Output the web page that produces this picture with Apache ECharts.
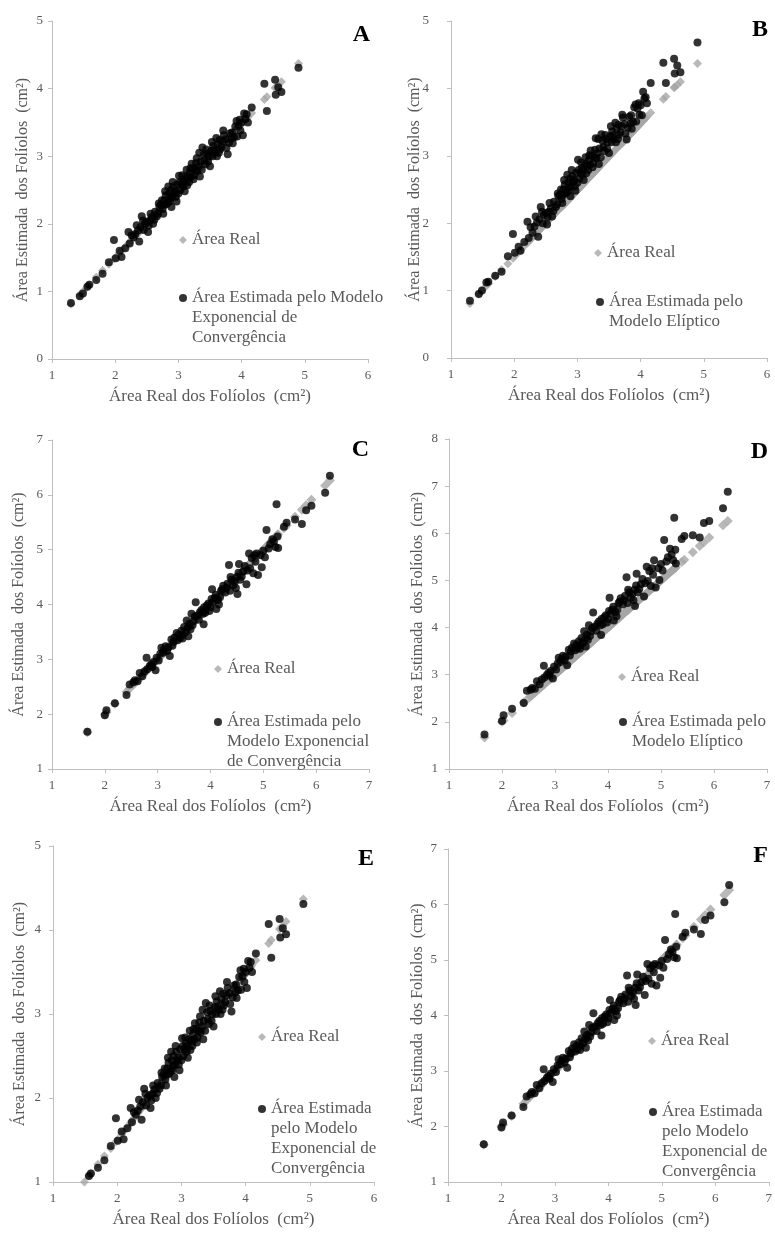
<!DOCTYPE html>
<html>
<head>
<meta charset="utf-8">
<script src="https://cdn.jsdelivr.net/npm/echarts@6/dist/echarts.min.js"></script>
<style>
  body { margin: 0; background: #fff; }
  .panel { position: absolute; }
</style>
</head>
<body>
<div id="pA" class="panel" style="left:0;top:0;width:384px;height:410px"></div>
<div id="pB" class="panel" style="left:385px;top:0;width:390px;height:410px"></div>
<div id="pC" class="panel" style="left:0;top:410px;width:384px;height:410px"></div>
<div id="pD" class="panel" style="left:385px;top:410px;width:390px;height:410px"></div>
<div id="pE" class="panel" style="left:0;top:820px;width:384px;height:413px"></div>
<div id="pF" class="panel" style="left:385px;top:820px;width:390px;height:413px"></div>
<script>
// conjunto 1 (paineis A, B, E)
var leafX1 = [
  1.30,1.44,1.49,1.56,1.59,1.70,1.80,1.90,1.98,2.01,
  2.07,2.10,2.16,2.21,2.23,2.29,2.32,2.34,2.38,2.40,
  2.42,2.45,2.47,2.50,2.52,2.55,2.56,2.58,2.60,2.63,
  2.66,2.68,2.70,2.72,2.74,2.75,2.76,2.78,2.79,2.80,
  2.81,2.83,2.84,2.85,2.87,2.88,2.89,2.90,2.92,2.93,
  2.95,2.97,2.98,3.00,3.01,3.03,3.05,3.07,3.08,3.10,
  3.12,3.13,3.15,3.17,3.18,3.20,3.21,3.23,3.25,3.27,
  3.29,3.30,3.32,3.34,3.35,3.38,3.40,3.41,3.43,3.45,
  3.48,3.50,3.52,3.53,3.55,3.56,3.58,3.61,3.62,3.65,
  3.66,3.68,3.70,3.72,3.75,3.78,3.80,3.82,3.85,3.86,
  3.88,3.90,3.93,3.95,3.97,4.00,4.02,4.04,4.06,4.10,
  4.16,4.36,4.40,4.53,4.54,4.58,4.63,4.90,
  2.44,2.53,2.62,2.69,2.77,2.86,2.91,2.96,3.02,3.06,
  3.09,3.14,3.19,3.24,3.28,3.33,3.37,3.44,3.47,3.54,
  3.60,3.64,3.71,3.76,3.84,3.92,3.98,4.08,2.26,2.36
];
var realArea1 = [
  0.81,0.95,1.00,1.07,1.10,1.21,1.31,1.40,1.48,1.51,
  1.57,1.60,1.66,1.71,1.73,1.79,1.82,1.84,1.88,1.90,
  1.92,1.95,1.97,2.00,2.02,2.05,2.06,2.08,2.10,2.13,
  2.16,2.18,2.20,2.22,2.24,2.24,2.25,2.27,2.28,2.29,
  2.30,2.32,2.33,2.34,2.36,2.37,2.38,2.39,2.41,2.42,
  2.44,2.46,2.47,2.49,2.50,2.52,2.54,2.56,2.57,2.59,
  2.61,2.62,2.64,2.66,2.67,2.69,2.70,2.72,2.74,2.76,
  2.78,2.79,2.81,2.83,2.84,2.87,2.89,2.90,2.92,2.94,
  2.97,2.99,3.01,3.02,3.04,3.05,3.07,3.10,3.11,3.14,
  3.15,3.16,3.18,3.20,3.23,3.26,3.28,3.30,3.33,3.34,
  3.36,3.38,3.41,3.43,3.45,3.48,3.50,3.52,3.54,3.58,
  3.64,3.84,3.88,4.01,4.02,4.05,4.10,4.37,
  1.94,2.03,2.12,2.19,2.27,2.35,2.40,2.45,2.51,2.55,
  2.58,2.63,2.68,2.73,2.77,2.82,2.86,2.93,2.96,3.03,
  3.09,3.13,3.20,3.25,3.32,3.40,3.46,3.56,1.76,1.86
];
var estExp1 = [
  0.83,0.93,0.97,1.07,1.10,1.17,1.26,1.43,1.76,1.49,
  1.60,1.51,1.64,1.88,1.71,1.80,1.85,1.98,1.74,1.95,
  2.11,1.91,2.00,2.03,1.88,2.05,2.15,2.10,2.00,2.18,
  2.11,2.15,2.25,2.28,2.35,2.22,2.15,2.35,2.48,2.42,
  2.29,2.32,2.55,2.45,2.38,2.50,2.25,2.40,2.55,2.45,
  2.48,2.33,2.58,2.45,2.71,2.50,2.58,2.65,2.55,2.48,
  2.70,2.80,2.68,2.62,2.75,2.70,2.89,2.82,2.72,2.80,
  2.97,2.78,2.85,2.70,2.92,3.13,3.02,2.94,2.88,3.04,
  3.00,2.85,3.08,3.21,3.15,3.09,3.05,3.00,3.18,3.24,
  3.10,3.14,3.22,3.31,3.25,3.03,3.20,3.34,3.35,3.19,
  3.28,3.44,3.29,3.45,3.54,3.50,3.31,3.63,3.55,3.50,
  3.72,4.07,3.67,4.13,3.91,4.02,3.95,4.31,
  2.05,1.97,2.06,2.30,2.28,2.33,2.62,2.40,2.62,2.72,
  2.62,2.57,2.82,2.66,2.90,3.05,2.80,3.10,2.92,3.00,
  3.27,3.05,3.38,3.12,3.26,3.52,3.38,3.62,1.83,1.90
];
var estEll1 = [
  0.85,0.95,1.00,1.12,1.13,1.22,1.28,1.51,1.84,1.56,
  1.65,1.59,1.72,2.02,1.78,1.86,1.95,2.10,1.80,2.06,
  2.24,2.00,2.12,2.15,1.98,2.17,2.30,2.22,2.10,2.32,
  2.24,2.28,2.40,2.42,2.50,2.36,2.30,2.50,2.64,2.57,
  2.44,2.46,2.72,2.60,2.53,2.66,2.40,2.55,2.70,2.61,
  2.64,2.48,2.75,2.60,2.94,2.66,2.74,2.82,2.72,2.64,
  2.88,2.98,2.85,2.79,2.93,2.87,3.08,3.00,2.89,2.98,
  3.26,2.96,3.04,2.88,3.11,3.32,3.22,3.13,3.07,3.25,
  3.20,3.04,3.29,3.44,3.36,3.30,3.25,3.20,3.40,3.46,
  3.31,3.35,3.44,3.57,3.47,3.24,3.42,3.58,3.60,3.40,
  3.50,3.72,3.51,3.70,3.78,3.75,3.60,3.95,3.85,3.78,
  4.08,4.38,4.08,4.44,4.22,4.34,4.24,4.68,
  2.17,2.09,2.18,2.44,2.42,2.48,2.79,2.55,2.79,2.90,
  2.79,2.74,3.01,2.83,3.09,3.25,2.98,3.31,3.11,3.20,
  3.49,3.25,3.61,3.33,3.48,3.76,3.61,3.87,1.94,2.01
];

// conjunto 2 (paineis C, D, F) - area real no eixo x e no eixo y
var leafX2 = [
  1.67,2.00,2.03,2.19,2.41,2.47,2.54,2.57,2.62,2.71,
  2.75,2.79,2.80,2.85,2.88,2.92,2.96,2.98,3.02,3.07,
  3.10,3.12,3.15,3.20,3.23,3.26,3.28,3.32,3.36,3.38,
  3.42,3.45,3.48,3.50,3.53,3.55,3.58,3.60,3.62,3.64,
  3.68,3.72,3.75,3.78,3.83,3.86,3.87,3.90,3.93,3.96,
  4.00,4.03,4.05,4.08,4.11,4.14,4.18,4.20,4.24,4.28,
  4.32,4.35,4.37,4.40,4.43,4.46,4.50,4.51,4.54,4.56,
  4.59,4.62,4.68,4.70,4.73,4.78,4.81,4.85,4.87,4.90,
  4.95,4.97,5.03,5.06,5.10,5.17,5.20,5.23,5.25,5.27,
  5.28,5.39,5.44,5.60,5.73,5.81,5.91,6.17,6.26,
  2.66,2.90,3.05,3.18,3.30,3.40,3.47,3.57,3.66,3.70,
  3.80,3.88,3.98,4.02,4.10,4.16,4.22,4.30,4.38,4.48,
  4.53,4.65,4.75,4.83,5.00,5.13
];
var estExp2 = [
  1.68,1.98,2.07,2.20,2.35,2.54,2.58,2.62,2.60,2.69,
  2.78,3.03,2.82,2.88,2.91,2.95,2.80,3.03,2.98,3.21,
  3.12,3.18,3.24,3.22,3.06,3.36,3.25,3.40,3.48,3.35,
  3.39,3.52,3.45,3.59,3.50,3.71,3.42,3.65,3.55,3.83,
  3.70,4.04,3.80,3.72,3.90,3.83,3.64,3.85,3.98,4.02,
  3.95,4.28,4.05,4.12,3.92,4.08,4.13,4.25,4.34,4.22,
  4.38,4.72,4.25,4.45,4.35,4.42,4.50,4.19,4.74,4.45,
  4.51,4.60,4.37,4.62,4.93,4.85,4.57,4.78,4.93,4.54,
  4.90,4.68,4.86,5.36,5.02,5.19,5.15,5.05,5.83,5.24,
  5.03,5.42,5.49,5.55,5.47,5.72,5.80,6.04,6.35,
  2.75,2.86,3.10,3.15,3.32,3.45,3.38,3.58,3.62,3.78,
  3.86,3.95,3.88,4.10,4.18,4.00,4.28,4.30,4.50,4.30,
  4.58,4.70,4.66,4.90,4.98,5.10
];
var estEll2 = [
  1.73,2.02,2.14,2.28,2.40,2.66,2.68,2.72,2.70,2.80,
  2.90,3.19,2.94,3.00,3.04,3.08,2.92,3.17,3.11,3.36,
  3.27,3.33,3.40,3.38,3.20,3.53,3.41,3.57,3.66,3.52,
  3.56,3.71,3.63,3.78,3.68,3.92,3.60,3.85,3.74,4.05,
  3.91,4.32,4.02,3.93,4.13,4.05,3.84,4.07,4.22,4.26,
  4.18,4.63,4.30,4.38,4.15,4.33,4.39,4.52,4.62,4.49,
  4.67,5.07,4.52,4.75,4.63,4.71,4.80,4.46,5.14,4.75,
  4.82,4.92,4.66,4.94,5.29,5.20,4.88,5.12,5.43,4.85,
  5.26,5.01,5.21,5.86,5.40,5.67,5.55,5.43,6.33,5.65,
  5.36,5.88,5.94,5.96,5.91,6.22,6.26,6.53,6.88,
  2.86,2.98,3.24,3.30,3.49,3.63,3.55,3.77,3.82,3.99,
  4.08,4.18,4.11,4.35,4.44,4.24,4.55,4.58,4.80,4.58,
  4.89,5.03,4.99,5.26,5.35,5.49
];

var AXIS_GREY = '#bfbfbf';
var TEXT_GREY = '#595959';
var SERIF = '"Liberation Serif", "Times New Roman", serif';
var xTitle = 'Área Real dos Folíolos  (cm²)';
var yTitle = 'Área Estimada  dos Folíolos  (cm²)';

function pairs(xs, ys) {
  return xs.map(function (v, i) { return [v, ys[i]]; });
}

function axis(min, max, name, gap, margin, nameSize) {
  return {
    type: 'value', min: min, max: max, interval: 1,
    name: name, nameLocation: 'middle', nameGap: gap, nameMoveOverlap: false,
    nameTextStyle: { fontFamily: SERIF, fontSize: nameSize, color: TEXT_GREY },
    axisLine: { show: true, onZero: false, lineStyle: { color: AXIS_GREY } },
    axisTick: { show: true, length: 4, lineStyle: { color: AXIS_GREY } },
    axisLabel: { margin: margin, fontFamily: SERIF, fontSize: 13, color: TEXT_GREY },
    splitLine: { show: false }
  };
}

function drawPanel(p) {
  var chart = echarts.init(document.getElementById(p.id));
  var n = p.estLabel.split('\n').length;
  // linhas vazias antes do texto: o icone fica na altura da primeira linha
  var label = new Array(n).join('\n') + p.estLabel;
  chart.setOption({
    animation: false,
    grid: p.grid,
    title: {
      text: p.letter, right: p.letterPos[0], top: p.letterPos[1], padding: 0,
      textStyle: { fontFamily: SERIF, fontWeight: 'bold', fontSize: 24, color: '#000' }
    },
    xAxis: axis(p.xmin, p.xmax, xTitle, 29, 10, 17),
    yAxis: axis(p.ymin, p.ymax, yTitle, p.yGap, p.yMargin, 16),
    legend: [{
      data: ['Área Real'], selectedMode: false, padding: 0,
      left: p.leg1[0] - 4, top: p.leg1[1] - 10,
      icon: 'diamond', itemWidth: 8, itemHeight: 8,
      textStyle: { fontFamily: SERIF, fontSize: 17, color: TEXT_GREY, lineHeight: 20 }
    }, {
      data: [p.estName], selectedMode: false, padding: 0,
      left: p.leg2[0] - 4, top: p.leg2[1] - 10 * (2 * n - 1),
      icon: 'circle', itemWidth: 8, itemHeight: 8,
      formatter: function () { return label; },
      textStyle: { fontFamily: SERIF, fontSize: 17, color: TEXT_GREY, lineHeight: 20 }
    }],
    series: [{
      name: 'Área Real', type: 'scatter', symbol: 'diamond', symbolSize: p.diamond,
      itemStyle: { color: '#a6a6a6' },
      data: pairs(p.x, p.real)
    }, {
      name: p.estName, type: 'scatter', symbol: 'circle', symbolSize: 8,
      itemStyle: { color: '#000' },
      data: pairs(p.x, p.est)
    }]
  });
}

var expName = 'Área Estimada pelo Modelo Exponencial de Convergência';
var ellName = 'Área Estimada pelo Modelo Elíptico';

var panels = [
  { id: 'pA', letter: 'A', letterPos: [14, 23], grid: { left: 52, top: 21, width: 316, height: 338 },
    xmin: 1, xmax: 6, ymin: 0, ymax: 5, yGap: 21, yMargin: 9, diamond: 9,
    x: leafX1, real: realArea1, est: estExp1, estName: expName,
    estLabel: 'Área Estimada pelo Modelo\nExponencial de\nConvergência',
    leg1: [183, 240], leg2: [183, 298] },
  { id: 'pB', letter: 'B', letterPos: [7, 18], grid: { left: 66, top: 21, width: 316, height: 337 },
    xmin: 1, xmax: 6, ymin: 0, ymax: 5, yGap: 28, yMargin: 22, diamond: 9,
    x: leafX1, real: realArea1, est: estEll1, estName: ellName,
    estLabel: 'Área Estimada pelo\nModelo Elíptico',
    leg1: [213, 253], leg2: [215, 302] },
  { id: 'pC', letter: 'C', letterPos: [15, 28], grid: { left: 52, top: 30, width: 317, height: 338 },
    xmin: 1, xmax: 7, ymin: 1, ymax: 7, yGap: 25, yMargin: 9, diamond: 10,
    x: leafX2, real: leafX2, est: estExp2, estName: expName,
    estLabel: 'Área Estimada pelo\nModelo Exponencial\nde Convergência',
    leg1: [218, 259], leg2: [218, 312] },
  { id: 'pD', letter: 'D', letterPos: [7, 30], grid: { left: 64, top: 29, width: 318, height: 338 },
    xmin: 1, xmax: 7, ymin: 1, ymax: 8, yGap: 23, yMargin: 11, diamond: 10,
    x: leafX2, real: leafX2, est: estEll2, estName: ellName,
    estLabel: 'Área Estimada pelo\nModelo Elíptico',
    leg1: [237, 267], leg2: [238, 312] },
  { id: 'pE', letter: 'E', letterPos: [10, 27], grid: { left: 53, top: 26, width: 321, height: 338 },
    xmin: 1, xmax: 6, ymin: 1, ymax: 5, yGap: 25, yMargin: 12, diamond: 9,
    x: leafX1, real: realArea1, est: estExp1, estName: expName,
    estLabel: 'Área Estimada\npelo Modelo\nExponencial de\nConvergência',
    leg1: [262, 217], leg2: [262, 289] },
  { id: 'pF', letter: 'F', letterPos: [7, 24], grid: { left: 63, top: 29, width: 323, height: 338 },
    xmin: 1, xmax: 7, ymin: 1, ymax: 7, yGap: 22, yMargin: 11, diamond: 10,
    x: leafX2, real: leafX2, est: estExp2, estName: expName,
    estLabel: 'Área Estimada\npelo Modelo\nExponencial de\nConvergência',
    leg1: [267, 221], leg2: [268, 292] }
];

panels.forEach(drawPanel);
</script>
</body>
</html>
